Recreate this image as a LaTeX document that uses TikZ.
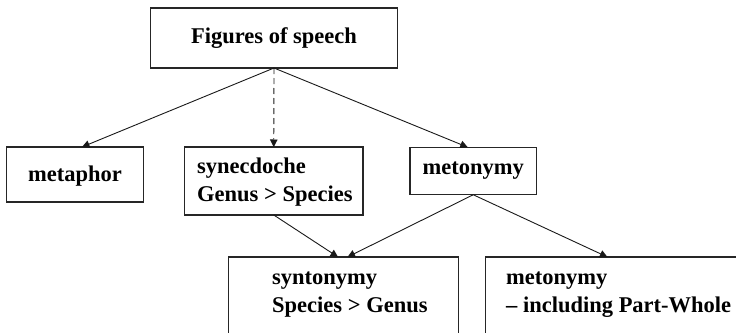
\documentclass[tikz,border=0pt]{standalone}
\usepackage{fontspec}
\setmainfont{Liberation Serif}
\usetikzlibrary{arrows.meta}
\begin{document}
\begin{tikzpicture}[x=1pt,y=-1pt,
  box/.style={draw=black!85, line width=1.1pt, rectangle, inner sep=0pt, outer sep=0pt},
  lbl/.style={font=\fontsize{22.5}{28}\selectfont\bfseries, inner sep=0pt, align=left},
  link/.style={draw=black!90, line width=0.9pt, -{Triangle[length=7.5pt,width=7.5pt]}},
  dlink/.style={link, dash pattern=on 6pt off 4pt}]
  \useasboundingbox (0,0) rectangle (736,332);
  \clip (0,0) rectangle (736,332);

  % upper row
  \node[box, minimum width=246.5pt, minimum height=60pt] (fig) at (274,38) {};
  \node[lbl] (figt) at (fig.center) {Figures of speech};

  \node[box, minimum width=136.5pt, minimum height=55pt] (meta) at (75,174.5) {};
  \node[lbl] (metat) at ([yshift=-1.5]meta.center) {metaphor};

  \node[box, minimum width=178.5pt, minimum height=68pt] (syne) at (273.75,181) {};
  \node[lbl, anchor=west] (synet) at ([xshift=12.5pt,yshift=-1.5]syne.west) {synecdoche\\Genus > Species};

  \node[box, minimum width=126.5pt, minimum height=47.5pt] (meto) at (473.25,171) {};
  \node[lbl] (metot) at (meto.center) {metonymy};

  % lower row (runs past the lower and right edges)
  \node[box, minimum width=230pt, minimum height=100pt] (synt) at (343.5,307) {};
  \node[lbl, anchor=west] (syntt) at ([xshift=43.5pt,yshift=-38pt]synt.north west) {syntonymy\\Species > Genus};

  \node[box, minimum width=290pt, minimum height=100pt] (part) at (630.4,307) {};
  \node[lbl, anchor=west] (partt) at ([xshift=20.6pt,yshift=-38pt]part.north west) {metonymy\\– including Part-Whole};

  % connectors
  \draw[link]  (fig.south) -- ([xshift=7pt]meta.north);
  \draw[dlink] (fig.south) -- (syne.north);
  \draw[link]  (fig.south) -- ([xshift=-5.5pt]meto.north);
  \draw[link]  (syne.south) -- ([xshift=-5.5pt]synt.north);
  \draw[link]  (meto.south) -- ([xshift=4pt]synt.north);
  \draw[link]  (meto.south) -- ([xshift=122pt]part.north west);
\end{tikzpicture}
\end{document}
